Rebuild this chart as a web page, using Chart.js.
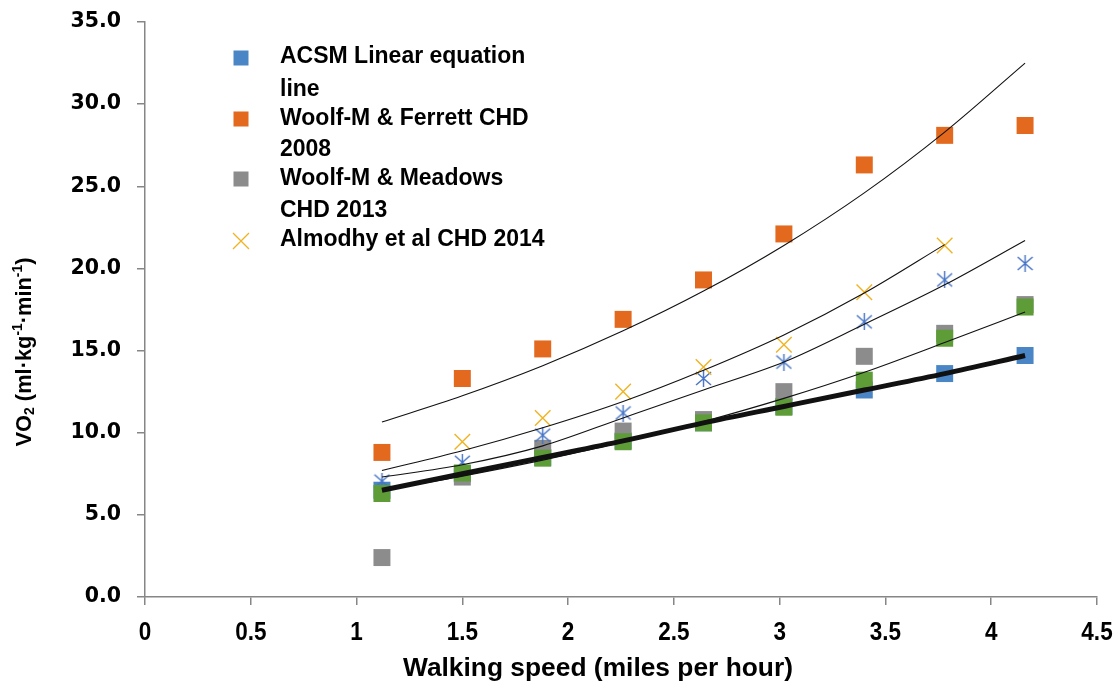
<!DOCTYPE html>
<html>
<head>
<meta charset="utf-8">
<script src="https://cdn.jsdelivr.net/npm/chart.js@4.4.1/dist/chart.umd.min.js"></script>
<style>
  html, body { margin: 0; padding: 0; background: #fff; }
  #wrap { width: 1117px; height: 687px; position: relative; }
</style>
</head>
<body>
<div id="wrap"><canvas id="myChart"></canvas></div>
<script>
// walking speeds (mph)
var speeds = [1.12, 1.5, 1.88, 2.26, 2.64, 3.02, 3.4, 3.78, 4.16];

// measured / predicted VO2 values
var acsm     = [6.5, 7.5, 8.5, 9.5, 10.6, 11.6, 12.6, 13.6, 14.7];
var ferrett  = [8.8, 13.3, 15.1, 16.9, 19.3, 22.1, 26.3, 28.1, 28.7];
var meadows  = [2.4, 7.3, 9.05, 10.1, 10.8, 12.5, 14.65, 16.05, 17.8];
var almodhy  = [null, 9.45, 10.9, 12.5, 14.0, 15.35, 18.55, 21.4, null];
var starSer  = [7.05, 8.2, 9.85, 11.2, 13.3, 14.3, 16.75, 19.3, 20.3];
var greenSer = [6.3, 7.55, 8.45, 9.45, 10.6, 11.55, 13.2, 15.75, 17.65];

// trend lines
var ferrettTrend = [10.65, 12.25, 14.08, 16.2, 18.62, 21.4, 24.6, 28.3, 32.5];
var almodhyTrend = [7.7, 8.9, 10.3, 11.9, 13.8, 15.95, 18.5, 21.45, null];
var starTrend    = [7.3, 8.05, 9.2, 10.9, 12.6, 14.3, 16.6, 19.0, 21.7];
var greenTrend   = [6.5, 7.36, 8.33, 9.43, 10.68, 12.09, 13.68, 15.49, 17.35];

// axis ticks
var xTicks = [0, 0.5, 1, 1.5, 2, 2.5, 3, 3.5, 4, 4.5];
var yTicks = [0, 5, 10, 15, 20, 25, 30, 35];

var legendNames = [
    ['ACSM Linear equation', 'line'],
    ['Woolf-M & Ferrett CHD', '2008'],
    ['Woolf-M & Meadows', 'CHD 2013'],
    ['Almodhy et al CHD 2014']
];

var colBlue = '#4A86C6', colOrange = '#E2691E', colGray = '#8C8C8C',
    colYellow = '#F0B323', colStar = '#4472C4', colGreen = '#5E9C38';

var sans = '"Liberation Sans", Arial, sans-serif';

function pts(arr) {
    var out = [];
    for (var i = 0; i < speeds.length; i++) {
        if (arr[i] !== null) out.push({ x: speeds[i], y: arr[i] });
    }
    return out;
}

// excel style asterisk marker
var starImg = document.createElement('canvas');
starImg.width = 17; starImg.height = 17;
(function () {
    var c = starImg.getContext('2d');
    c.strokeStyle = colStar;
    c.lineWidth = 1.4;
    c.beginPath();
    c.moveTo(8.5, 0); c.lineTo(8.5, 17);
    c.moveTo(1, 2); c.lineTo(16, 15);
    c.moveTo(16, 2); c.lineTo(1, 15);
    c.stroke();
})();

function trend(arr, width, order) {
    return {
        type: 'line', data: pts(arr), showLine: true, pointRadius: 0,
        borderColor: '#111', borderWidth: width, cubicInterpolationMode: 'monotone',
        fill: false, order: order
    };
}

// draws text squeezed horizontally (stand-in for Calibri)
function narrowText(ctx, txt, x, y, squeeze) {
    ctx.save();
    ctx.translate(x, y);
    ctx.scale(squeeze, 1);
    ctx.fillText(txt, 0, 0);
    ctx.restore();
}

var extras = {
    id: 'extras',
    afterDraw: function (chart) {
        var ctx = chart.ctx;
        ctx.save();
        // legend
        var mx = 241, tx = 280;
        var markY = [58, 119, 179, 241];
        var lineY = [[57, 90], [119, 150], [179, 211], [240]];
        var cols = [colBlue, colOrange, colGray];
        for (var i = 0; i < 3; i++) {
            ctx.fillStyle = cols[i];
            ctx.fillRect(mx - 7.5, markY[i] - 7.5, 15, 15);
        }
        ctx.strokeStyle = colYellow;
        ctx.lineWidth = 1.3;
        ctx.beginPath();
        ctx.moveTo(mx - 8, markY[3] - 8); ctx.lineTo(mx + 8, markY[3] + 8);
        ctx.moveTo(mx + 8, markY[3] - 8); ctx.lineTo(mx - 8, markY[3] + 8);
        ctx.stroke();
        ctx.fillStyle = '#000';
        ctx.font = 'bold 23px ' + sans;
        ctx.textBaseline = 'middle';
        ctx.textAlign = 'left';
        for (var j = 0; j < legendNames.length; j++) {
            for (var k = 0; k < legendNames[j].length; k++) {
                narrowText(ctx, legendNames[j][k], tx, lineY[j][k], 1.0);
            }
        }
        // x tick labels
        var xs = chart.scales.x;
        ctx.textAlign = 'center';
        ctx.font = 'bold 25px ' + sans;
        xTicks.forEach(function (v) {
            narrowText(ctx, String(v), xs.getPixelForValue(v), 633, 0.9);
        });
        // x axis title
        ctx.font = 'bold 26px ' + sans;
        var tw = ctx.measureText('Walking speed (miles per hour)').width;
        narrowText(ctx, 'Walking speed (miles per hour)', 598, 669, 390 / tw);
        // y axis title with sub/superscripts
        ctx.translate(25, 352);
        ctx.rotate(-Math.PI / 2);
        var parts = [['VO', 0, 22], ['2', 5, 14], [' (ml\u00b7kg', 0, 22], ['-1', -7, 14],
                     ['\u00b7min', 0, 22], ['-1', -7, 14], [')', 0, 22]];
        var total = 0;
        parts.forEach(function (p) {
            ctx.font = 'bold ' + p[2] + 'px ' + sans;
            total += ctx.measureText(p[0]).width;
        });
        var sq = 189 / total;
        ctx.scale(sq, 1);
        var x = -total / 2;
        ctx.textAlign = 'left';
        parts.forEach(function (p) {
            ctx.font = 'bold ' + p[2] + 'px ' + sans;
            ctx.fillText(p[0], x, p[1]);
            x += ctx.measureText(p[0]).width;
        });
        ctx.restore();
    }
};

var ctx = document.getElementById('myChart');
var myChart = new Chart(ctx, {
    type: 'scatter',
    data: {
        datasets: [
            trend(acsm, 5, 0),
            trend(ferrettTrend, 1.1, 1),
            trend(almodhyTrend, 1.1, 1),
            trend(starTrend, 1.1, 1),
            trend(greenTrend, 1.1, 1),
            { data: pts(greenSer), pointStyle: 'rect', pointRadius: 12, backgroundColor: colGreen, borderColor: colGreen, borderWidth: 0, order: 2 },
            { data: pts(almodhy), pointStyle: 'crossRot', pointRadius: 11, borderColor: colYellow, borderWidth: 1.4, order: 3 },
            { data: pts(starSer), pointStyle: starImg, order: 4 },
            { data: pts(meadows), pointStyle: 'rect', pointRadius: 12, backgroundColor: colGray, borderColor: colGray, borderWidth: 0, order: 5 },
            { data: pts(ferrett), pointStyle: 'rect', pointRadius: 12, backgroundColor: colOrange, borderColor: colOrange, borderWidth: 0, order: 6 },
            { data: pts(acsm), pointStyle: 'rect', pointRadius: 12, backgroundColor: colBlue, borderColor: colBlue, borderWidth: 0, order: 7 }
        ]
    },
    options: {
        responsive: true,
        maintainAspectRatio: false,
        animation: false,
        layout: { padding: { left: 0, right: 20, top: 22, bottom: 0 } },
        plugins: { legend: { display: false }, tooltip: { enabled: false } },
        scales: {
            x: {
                type: 'linear', min: 0, max: 4.5,
                afterBuildTicks: function (s) { s.ticks = xTicks.map(function (v) { return { value: v }; }); },
                afterFit: function (s) { s.height = 90; s.paddingLeft = 0; s.paddingRight = 0; },
                grid: { drawOnChartArea: false, tickLength: 8, color: '#868686', lineWidth: 1.5 },
                border: { color: '#868686', width: 1.5 },
                ticks: { display: false }
            },
            y: {
                type: 'linear', min: 0, max: 35,
                afterBuildTicks: function (s) { s.ticks = yTicks.map(function (v) { return { value: v }; }); },
                afterFit: function (s) { s.width = 145; s.paddingTop = 0; s.paddingBottom = 0; },
                grid: { drawOnChartArea: false, tickLength: 8, color: '#868686', lineWidth: 1.5 },
                border: { color: '#868686', width: 1.5 },
                ticks: {
                    color: '#000', padding: 16,
                    font: { family: '"DejaVu Sans", Verdana, sans-serif', size: 20.5, weight: 'bold' },
                    callback: function (v) { return v.toFixed(1); }
                }
            }
        }
    },
    plugins: [extras]
});
</script>
</body>
</html>
